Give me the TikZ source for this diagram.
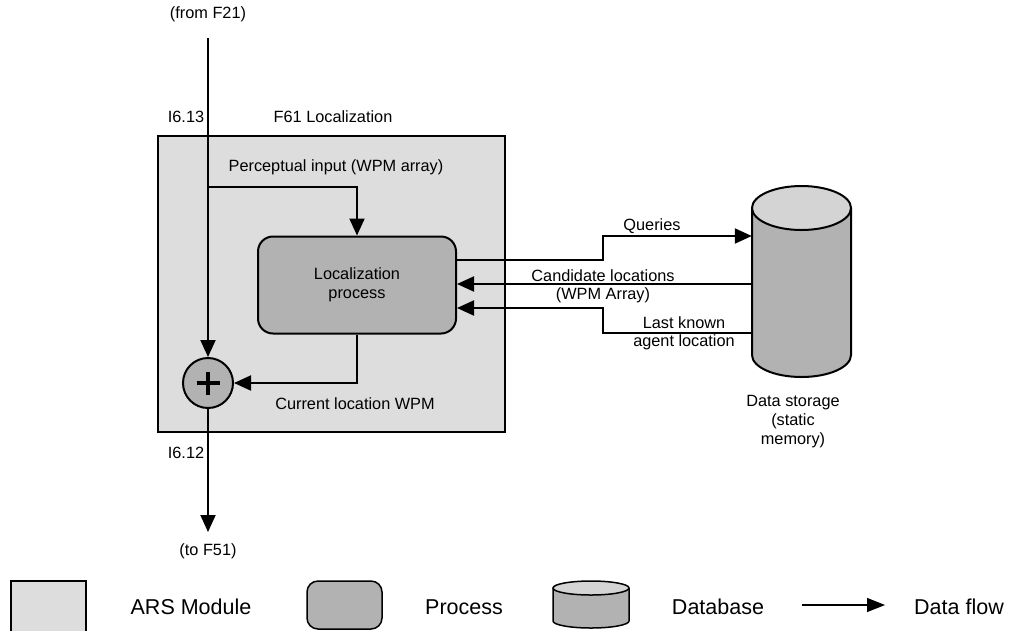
\documentclass[tikz,border=0pt]{standalone}
\usepackage{fontspec}
\setmainfont{Liberation Sans}
\usetikzlibrary{arrows.meta,calc}
\definecolor{modgray}{HTML}{DDDDDD}
\definecolor{procgray}{HTML}{B2B2B2}
\definecolor{dbtop}{HTML}{D4D4D4}
\begin{document}
\begin{tikzpicture}[x=1pt,y=-1pt,
  txt/.style={font=\fontsize{16.3}{19}\selectfont, align=center, inner sep=0pt},
  legtxt/.style={font=\fontsize{21.5}{24}\selectfont, inner sep=0pt},
  flow/.style={line width=2pt, -{Triangle[length=17pt,width=15pt]}},
  modbox/.style={draw, line width=2pt, fill=modgray},
  procbox/.style={draw, line width=2pt, fill=procgray, rounded corners=15pt},
]
\useasboundingbox (0,0) rectangle (1016,630);
\fill[white] (0,0) rectangle (1016,630);

% module
\node[modbox, minimum width=347pt, minimum height=296pt, inner sep=0pt] (mod) at (331.5,284) {};
\node[procbox, minimum width=198pt, minimum height=97pt, inner sep=0pt] (proc) at (357,285) {};
\node[txt, font=\fontsize{16.3}{18.5}\selectfont] (proctxt) at (357,285) {Localization\\process};
\node[draw, circle, line width=2pt, fill=procgray, minimum size=50pt, inner sep=0pt] (plus) at (208,383) {};
\draw[line width=4pt] ($(plus.center)+(-11.5,0)$) -- ($(plus.center)+(11.5,0)$)
  ($(plus.center)+(0,-11.5)$) -- ($(plus.center)+(0,11.5)$);

% database
\node[minimum width=99pt, minimum height=192pt, inner sep=0pt] (db) at (801.5,281) {};
\path[fill=procgray] (752,208) -- (752,355) arc[start angle=180, end angle=360, x radius=49.5pt, y radius=22pt] -- (851,208) -- cycle;
\draw[line width=2pt] (752,208) -- (752,355) arc[start angle=180, end angle=360, x radius=49.5pt, y radius=22pt] -- (851,208);
\draw[line width=2pt, fill=dbtop] (801.5,208) ellipse[x radius=49.5pt, y radius=22pt];

% coordinates
\coordinate (in) at (208,38);
\coordinate (br) at (208,187);
\coordinate (out) at (208,532);
\coordinate (qb) at (603,236);
\coordinate (cl) at ($(proc.east)+(0,-1)$);
\coordinate (lk1) at (752,333);
\coordinate (lk2) at (603,308);

% connectors
\draw[flow] (in) -- (plus.north);
\draw[flow] (br) -| (proc.north);
\draw[flow] (proc.south) |- (plus.east);
\draw[flow] (plus.south) -- (out);
\draw[flow] ($(proc.east)+(0,-25)$) -| (qb) -- (qb -| db.west);
\draw[flow] (cl -| db.west) -- (cl);
\draw[flow] (lk1) -| (lk2) -- (lk2 -| proc.east);

% labels
\node[txt] (from) at (208,14) {(from F21)};
\node[txt] (i613) at (186,117) {I6.13};
\node[txt] (f61) at (333,117) {F61 Localization};
\node[txt] (perc) at (336,167) {Perceptual input (WPM array)};
\node[txt] (cur) at (355,404) {Current location WPM};
\node[txt] (i612) at (186,453) {I6.12};
\node[txt] (to) at (208,551) {(to F51)};
\node[txt] (q) at (652,226) {Queries};
\node[txt, font=\fontsize{16.3}{18}\selectfont] (cand) at (603,286) {Candidate locations\\(WPM Array)};
\node[txt, font=\fontsize{16.3}{18.5}\selectfont] (last) at (684,333.5) {Last known\\agent location};
\node[txt] (ds) at (793,422) {Data storage\\(static\\memory)};

% legend
\node[draw, line width=1.5pt, fill=modgray, minimum width=75pt, minimum height=60pt, inner sep=0pt] (lmod) at (48.5,611) {};
\node[legtxt] (lmodt) at (191,607) {ARS Module};
\node[draw, line width=1.5pt, fill=procgray, rounded corners=11pt, minimum width=75pt, minimum height=48pt, inner sep=0pt] (lproc) at (344.5,605) {};
\node[legtxt] (lproct) at (464,607) {Process};
\node[minimum width=76pt, minimum height=47pt, inner sep=0pt] (ldb) at (591,605) {};
\path[fill=procgray] (553,588) -- (553,621) arc[start angle=180, end angle=360, x radius=38pt, y radius=7pt] -- (629,588) -- cycle;
\draw[line width=1.5pt] (553,588) -- (553,621) arc[start angle=180, end angle=360, x radius=38pt, y radius=7pt] -- (629,588);
\draw[line width=1.5pt, fill=dbtop] (591,588) ellipse[x radius=38pt, y radius=7pt];
\node[legtxt] (ldbt) at (718,607) {Database};
\coordinate (la1) at (802,605);
\coordinate (la2) at (885,605);
\draw[line width=1.3pt, -{Triangle[length=18pt,width=14pt]}] (la1) -- (la2);
\node[legtxt] (lflow) at (959,607) {Data flow};
\end{tikzpicture}
\end{document}
